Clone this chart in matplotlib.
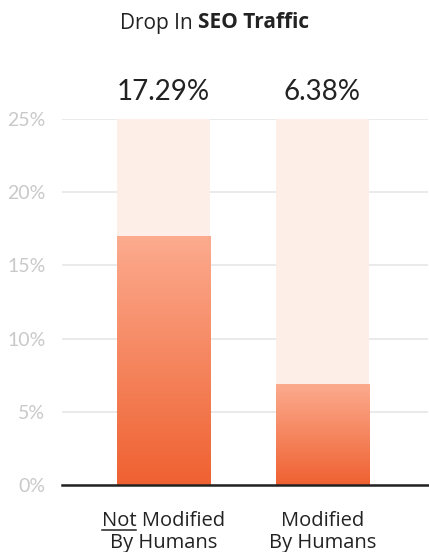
import matplotlib
matplotlib.use("Agg")
import matplotlib.pyplot as plt
import numpy as np
from matplotlib.colors import LinearSegmentedColormap

plt.rcParams['font.family'] = ['Lato', 'DejaVu Sans']
TXT_FONT = ['Open Sans', 'DejaVu Sans']

categories = ["Not Modified\nBy Humans", "Modified\nBy Humans"]
bar_values = [17.0, 6.88]          # bar heights as drawn
value_labels = ["17.29%", "6.38%"]  # printed labels
ymax = 25
yticks = [0, 5, 10, 15, 20, 25]
ytick_labels = ["0%", "5%", "10%", "15%", "20%", "25%"]

W, H = 429, 552
fig = plt.figure(figsize=(W/100, H/100), dpi=100)
ax = fig.add_axes([62/W, 1-485/H, (428-62)/W, (485-119)/H])

x = np.arange(len(categories))
bw = 0.587

# background bars
ax.bar(x, [ymax]*len(x), width=bw, color="#fdeee8", zorder=1)
# gradient bars
cmap = LinearSegmentedColormap.from_list("g", ["#ef6131", "#fcab8e"])
grad = np.linspace(0, 1, 256).reshape(-1, 1)
bars = ax.bar(x, bar_values, width=bw, color="none", zorder=2)
for b in bars:
    x0, y0, w, h = b.get_x(), b.get_y(), b.get_width(), b.get_height()
    ax.imshow(grad, cmap=cmap, origin="lower", aspect="auto",
              extent=[x0, x0+w, y0, y0+h], zorder=2)

ax.set_xlim(-0.636, 1.663)
ax.set_ylim(0, ymax)

ax.set_yticks(yticks)
ax.set_yticklabels(ytick_labels)
ax.tick_params(axis='y', length=0, pad=12, labelsize=14, labelcolor="#c9c9c9")
ax.set_xticks([])
ax.grid(axis='y', color="#e6e6e6", linewidth=1.2, zorder=0)
ax.set_axisbelow(True)
for s in ["top", "right", "left"]:
    ax.spines[s].set_visible(False)
ax.spines["bottom"].set_color("#222222")
ax.spines["bottom"].set_linewidth(1.8)
ax.spines["bottom"].set_zorder(5)

# value labels
for xi, lab in zip(x, value_labels):
    ax.text(xi, ymax + 1.3, lab, ha="center", va="baseline", fontsize=20,
            color="#222222", clip_on=False)

fig.canvas.draw()
r = fig.canvas.get_renderer()

# title with mixed weights
ty = 1 - 28.5/H
t1 = fig.text(0, ty, "Drop In ", fontsize=15, color="#222222", va="baseline", family=TXT_FONT)
t2 = fig.text(0, ty, "SEO Traffic", fontsize=15, color="#222222", va="baseline",
              fontweight="bold", family=TXT_FONT)
w1 = t1.get_window_extent(r).width
w2 = t2.get_window_extent(r).width
cx = 0.5 * W
start = cx - (w1 + w2) / 2
t1.set_x(start / W)
t2.set_x((start + w1) / W)

# category labels
for xi, cat in zip(x, categories):
    px = ax.transData.transform((xi, 0))[0]
    lines = cat.split("\n")
    for li, line in enumerate(lines):
        yy = 1 - (526 + li*22)/H
        t = fig.text(px/W, yy, line, ha="center", va="baseline", fontsize=14.5,
                     color="#222222", family=TXT_FONT)
        if li == 0 and line.startswith("Not "):
            fig.canvas.draw()
            bb = t.get_window_extent(r)
            tn = fig.text(0, 0, "Not", fontsize=14.5, family=TXT_FONT)
            wn = tn.get_window_extent(r).width
            tn.remove()
            uy = H - 529.5
            fig.add_artist(plt.Line2D([bb.x0/W, (bb.x0+wn)/W], [uy/H, uy/H],
                                      color="#222222", linewidth=1.1,
                                      transform=fig.transFigure))

fig.savefig("out.png", dpi=100)
